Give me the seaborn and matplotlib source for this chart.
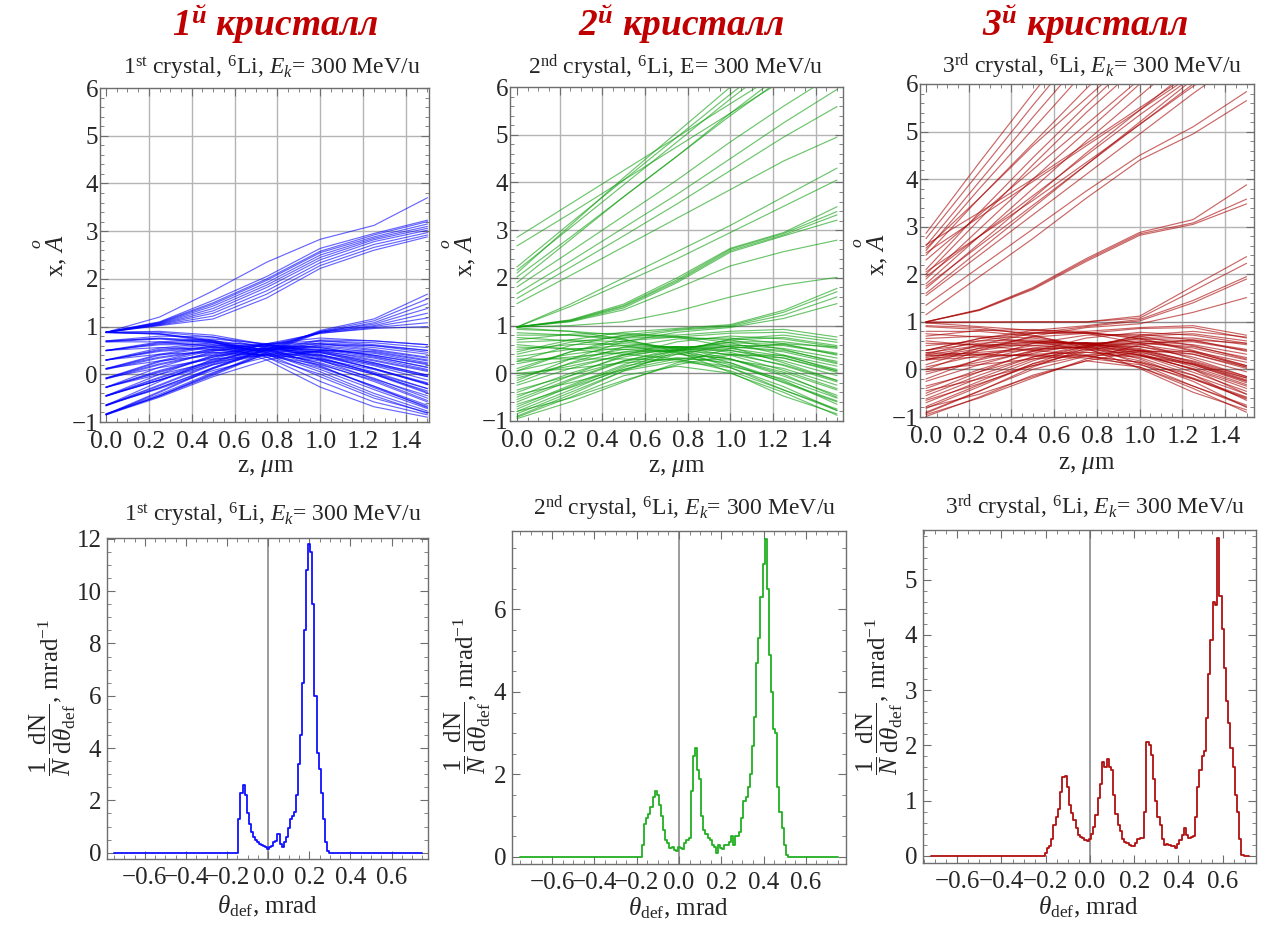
import numpy as np
import pandas as pd
import matplotlib
matplotlib.use("Agg")
import matplotlib.pyplot as plt
import seaborn as sns
from matplotlib.ticker import MultipleLocator, FixedLocator

sns.set_theme(style="white")
plt.rcParams['font.family'] = ['Liberation Serif', 'DejaVu Serif']
plt.rcParams['mathtext.fontset'] = 'custom'
plt.rcParams['mathtext.rm'] = 'Liberation Serif'
plt.rcParams['mathtext.it'] = 'Liberation Serif:italic'
plt.rcParams['mathtext.bf'] = 'Liberation Serif:bold'
plt.rcParams['mathtext.bfit'] = 'Liberation Serif:bold:italic'
plt.rcParams['axes.unicode_minus'] = True

# ---------------- data: trajectories x(z), read at these z ----------------
z_grid = [0.0, 0.25, 0.5, 0.75, 1.0, 1.25, 1.5]

p1_upper = [
    [0.88, 1.20, 1.75, 2.35, 2.83, 3.12, 3.70],
    [0.88, 1.10, 1.55, 2.05, 2.64, 2.95, 3.23],
    [0.88, 1.09, 1.50, 2.00, 2.58, 2.92, 3.20],
    [0.88, 1.08, 1.47, 1.97, 2.55, 2.88, 3.15],
    [0.88, 1.07, 1.43, 1.92, 2.50, 2.85, 3.10],
    [0.88, 1.06, 1.38, 1.87, 2.45, 2.82, 3.06],
    [0.88, 1.05, 1.33, 1.82, 2.40, 2.78, 3.02],
    [0.88, 1.04, 1.28, 1.75, 2.34, 2.72, 2.97],
    [0.88, 1.03, 1.22, 1.68, 2.28, 2.66, 2.92],
    [0.88, 1.02, 1.16, 1.60, 2.22, 2.60, 2.88],
]
p1_rising = [
    [-0.85, -0.45, 0.02, 0.48, 0.92, 1.16, 1.68],
    [-0.84, -0.45, 0.00, 0.46, 0.90, 1.12, 1.58],
    [-0.83, -0.46, -0.02, 0.44, 0.88, 1.08, 1.48],
    [-0.66, -0.28, 0.14, 0.54, 0.90, 1.05, 1.38],
    [-0.64, -0.28, 0.12, 0.52, 0.88, 1.02, 1.28],
    [-0.46, -0.12, 0.26, 0.60, 0.88, 1.00, 1.18],
    [-0.45, -0.12, 0.24, 0.58, 0.86, 0.98, 1.08],
    [-0.27, 0.04, 0.36, 0.64, 0.86, 0.96, 1.00],
]
p1_channel = [
    [0.88, 0.84, 0.68, 0.30, -0.27, -0.68, -0.90],
    [0.88, 0.85, 0.70, 0.36, -0.15, -0.58, -0.85],
    [0.87, 0.85, 0.72, 0.42, -0.05, -0.50, -0.80],
    [0.88, 0.90, 0.82, 0.62, 0.30, -0.10, -0.45],
    [0.88, 0.88, 0.78, 0.55, 0.18, -0.28, -0.68],
    [0.70, 0.75, 0.68, 0.45, 0.05, -0.40, -0.77],
    [0.68, 0.74, 0.66, 0.46, 0.10, -0.32, -0.72],
    [0.69, 0.76, 0.70, 0.50, 0.16, -0.25, -0.65],
    [0.70, 0.80, 0.78, 0.62, 0.36, 0.02, -0.30],
    [0.68, 0.68, 0.58, 0.36, 0.00, -0.45, -0.82],
    [0.50, 0.64, 0.66, 0.52, 0.22, -0.15, -0.58],
    [0.50, 0.62, 0.62, 0.48, 0.24, -0.08, -0.50],
    [0.50, 0.68, 0.74, 0.64, 0.42, 0.12, -0.18],
    [0.50, 0.56, 0.52, 0.40, 0.14, -0.25, -0.70],
    [0.49, 0.66, 0.70, 0.58, 0.34, 0.02, -0.38],
    [0.30, 0.50, 0.58, 0.52, 0.30, 0.00, -0.40],
    [0.30, 0.48, 0.56, 0.50, 0.32, 0.05, -0.30],
    [0.30, 0.55, 0.66, 0.62, 0.46, 0.20, -0.05],
    [0.30, 0.42, 0.46, 0.40, 0.20, -0.12, -0.55],
    [0.29, 0.52, 0.62, 0.58, 0.40, 0.12, -0.22],
    [0.12, 0.36, 0.52, 0.54, 0.38, 0.12, -0.20],
    [0.10, 0.34, 0.50, 0.52, 0.40, 0.18, -0.12],
    [0.12, 0.42, 0.60, 0.62, 0.50, 0.30, 0.08],
    [0.12, 0.28, 0.40, 0.42, 0.28, 0.00, -0.35],
    [0.11, 0.40, 0.57, 0.60, 0.48, 0.24, -0.02],
    [-0.08, 0.22, 0.45, 0.55, 0.45, 0.24, -0.02],
    [-0.10, 0.20, 0.43, 0.53, 0.46, 0.28, 0.06],
    [-0.08, 0.28, 0.54, 0.62, 0.56, 0.40, 0.20],
    [-0.08, 0.14, 0.32, 0.40, 0.32, 0.10, -0.20],
    [-0.09, 0.26, 0.50, 0.60, 0.56, 0.38, 0.14],
    [-0.27, 0.08, 0.38, 0.55, 0.52, 0.36, 0.15],
    [-0.28, 0.06, 0.36, 0.53, 0.53, 0.40, 0.22],
    [-0.27, 0.15, 0.48, 0.64, 0.64, 0.52, 0.36],
    [-0.27, 0.00, 0.26, 0.42, 0.40, 0.22, -0.05],
    [-0.45, -0.06, 0.30, 0.54, 0.58, 0.46, 0.28],
    [-0.46, -0.08, 0.28, 0.52, 0.60, 0.50, 0.34],
    [-0.45, 0.00, 0.40, 0.64, 0.70, 0.62, 0.50],
    [-0.45, -0.12, 0.20, 0.42, 0.48, 0.34, 0.10],
    [-0.65, -0.22, 0.22, 0.52, 0.64, 0.56, 0.42],
    [-0.66, -0.24, 0.20, 0.50, 0.66, 0.60, 0.50],
    [-0.65, -0.15, 0.32, 0.64, 0.76, 0.70, 0.62],
    [-0.64, -0.30, 0.08, 0.36, 0.50, 0.44, 0.24],
    [-0.85, -0.38, 0.12, 0.50, 0.70, 0.66, 0.56],
    [-0.84, -0.36, 0.14, 0.52, 0.72, 0.70, 0.62],
    [-0.85, -0.48, -0.05, 0.30, 0.50, 0.48, 0.30],
    [-0.83, -0.42, 0.04, 0.42, 0.62, 0.60, 0.46],
]

p2_steep = [
    [2.85, 3.55, 4.25, 4.95, 5.65, 6.35, 7.00],
    [2.67, 3.35, 4.05, 4.75, 5.45, 6.15, 6.80],
    [2.23, 3.15, 4.05, 4.95, 5.85, 6.70, 7.50],
    [2.16, 3.05, 3.95, 4.85, 5.75, 6.60, 7.40],
    [2.10, 3.10, 4.10, 5.05, 6.00, 6.90, 7.80],
    [2.02, 2.85, 3.70, 4.55, 5.40, 6.20, 7.00],
    [1.90, 2.80, 3.70, 4.55, 5.45, 6.30, 7.10],
    [1.81, 2.55, 3.30, 4.05, 4.85, 5.60, 6.30],
    [1.67, 2.35, 3.05, 3.75, 4.50, 5.25, 5.95],
    [1.57, 2.22, 2.88, 3.55, 4.25, 4.95, 5.59],
    [1.46, 2.05, 2.65, 3.25, 3.85, 4.45, 4.95],
    [0.97, 1.45, 2.00, 2.55, 3.10, 3.70, 4.30],
    [0.97, 1.40, 1.90, 2.40, 2.95, 3.50, 4.05],
]
p2_group = [
    [0.97, 1.12, 1.45, 2.00, 2.62, 2.95, 3.49],
    [0.97, 1.11, 1.42, 1.96, 2.60, 2.93, 3.39],
    [0.97, 1.10, 1.40, 1.93, 2.57, 2.90, 3.32],
    [0.97, 1.09, 1.37, 1.90, 2.54, 2.88, 3.21],
    [0.97, 1.08, 1.33, 1.78, 2.25, 2.55, 2.79],
    [0.97, 1.00, 1.08, 1.30, 1.60, 1.85, 2.01],
    [0.45, 0.70, 0.86, 0.94, 1.02, 1.32, 1.78],
    [0.25, 0.58, 0.80, 0.92, 1.00, 1.28, 1.71],
    [0.05, 0.45, 0.74, 0.90, 0.98, 1.22, 1.60],
    [-0.15, 0.30, 0.66, 0.86, 0.96, 1.15, 1.46],
]
p2_channel = [
    [-0.92, -0.50, -0.05, 0.15, 0.00, -0.40, -0.88],
    [-0.85, -0.40, 0.05, 0.25, 0.12, -0.28, -0.78],
    [-0.75, -0.28, 0.15, 0.33, 0.22, -0.15, -0.65],
    [-0.60, -0.15, 0.25, 0.40, 0.30, -0.02, -0.50],
    [0.95, 0.88, 0.80, 0.80, 0.88, 0.92, 0.76],
    [0.85, 0.80, 0.74, 0.76, 0.84, 0.86, 0.70],
    [-0.90, -0.45, 0.05, 0.45, 0.72, 0.80, 0.65],
    [-0.80, -0.35, 0.12, 0.48, 0.70, 0.75, 0.58],
    [-0.70, -0.25, 0.18, 0.50, 0.66, 0.66, 0.52],
    [-0.55, -0.12, 0.26, 0.52, 0.64, 0.60, 0.42],
    [-0.40, 0.00, 0.34, 0.54, 0.60, 0.52, 0.32],
    [-0.25, 0.10, 0.40, 0.55, 0.56, 0.45, 0.20],
    [-0.10, 0.20, 0.45, 0.56, 0.52, 0.36, 0.08],
    [0.05, 0.30, 0.50, 0.56, 0.48, 0.26, -0.05],
    [0.20, 0.40, 0.54, 0.56, 0.44, 0.16, -0.18],
    [0.35, 0.50, 0.58, 0.55, 0.38, 0.06, -0.32],
    [0.50, 0.60, 0.62, 0.54, 0.30, -0.06, -0.46],
    [0.65, 0.70, 0.66, 0.52, 0.22, -0.20, -0.60],
    [0.80, 0.80, 0.70, 0.50, 0.12, -0.35, -0.75],
    [0.92, 0.88, 0.72, 0.45, 0.02, -0.48, -0.85],
    [-0.95, -0.60, -0.18, 0.22, 0.52, 0.62, 0.55],
    [-0.65, -0.30, 0.08, 0.40, 0.58, 0.58, 0.40],
    [-0.35, -0.05, 0.26, 0.48, 0.56, 0.48, 0.25],
    [-0.05, 0.15, 0.38, 0.50, 0.48, 0.32, 0.02],
    [0.25, 0.34, 0.44, 0.48, 0.40, 0.18, -0.15],
    [0.55, 0.52, 0.50, 0.45, 0.30, 0.02, -0.35],
    [0.75, 0.68, 0.58, 0.42, 0.18, -0.18, -0.58],
    [-0.50, -0.05, 0.38, 0.66, 0.78, 0.72, 0.55],
    [-0.20, 0.22, 0.55, 0.72, 0.74, 0.62, 0.38],
    [0.10, 0.45, 0.68, 0.76, 0.70, 0.50, 0.22],
    [0.40, 0.65, 0.78, 0.78, 0.64, 0.38, 0.05],
    [0.70, 0.82, 0.84, 0.76, 0.55, 0.22, -0.15],
    [-0.80, -0.52, -0.15, 0.18, 0.38, 0.38, 0.15],
    [-0.45, -0.20, 0.08, 0.30, 0.40, 0.32, 0.05],
    [0.00, 0.10, 0.22, 0.30, 0.28, 0.10, -0.25],
    [0.30, 0.30, 0.30, 0.28, 0.15, -0.12, -0.52],
    [0.60, 0.50, 0.40, 0.30, 0.05, -0.35, -0.78],
]

p3_steep = [
    [2.86, 4.35, 5.80, 7.20, 8.60, 10.0, 11.4],
    [2.75, 4.15, 5.55, 6.90, 8.25, 9.60, 10.9],
    [2.60, 3.95, 5.30, 6.60, 7.90, 9.20, 10.5],
    [2.50, 3.80, 5.05, 6.30, 7.50, 8.70, 9.90],
    [2.40, 3.60, 4.75, 5.90, 7.00, 8.10, 9.20],
    [2.10, 3.30, 4.45, 5.55, 6.60, 7.60, 8.60],
    [2.00, 3.15, 4.30, 5.40, 6.40, 7.40, 8.40],
    [1.90, 2.95, 4.00, 5.00, 6.00, 7.00, 8.00],
    [1.80, 2.80, 3.80, 4.80, 5.75, 6.70, 7.60],
    [1.70, 2.65, 3.60, 4.55, 5.45, 6.35, 7.20],
    [1.60, 2.50, 3.40, 4.30, 5.20, 6.10, 7.00],
    [1.55, 2.40, 3.25, 4.10, 4.95, 5.80, 6.60],
    [1.35, 2.15, 2.95, 3.75, 4.50, 5.10, 5.84],
    [1.15, 1.95, 2.75, 3.60, 4.40, 4.95, 5.65],
    [2.55, 3.60, 4.70, 5.70, 6.70, 7.70, 8.70],
    [2.30, 3.25, 4.20, 5.15, 6.10, 7.00, 7.90],
    [1.95, 2.80, 3.65, 4.50, 5.35, 6.15, 6.90],
    [1.75, 2.60, 3.45, 4.30, 5.15, 6.00, 6.80],
    [2.05, 2.80, 3.55, 4.35, 5.15, 5.95, 6.70],
    [2.45, 3.20, 3.95, 4.70, 5.45, 6.20, 6.90],
    [2.62, 3.30, 4.00, 4.75, 5.50, 6.25, 7.00],
]
p3_group = [
    [1.00, 1.25, 1.70, 2.30, 2.85, 3.08, 3.58],
    [1.00, 1.24, 1.68, 2.27, 2.82, 3.05, 3.48],
    [1.00, 1.26, 1.72, 2.33, 2.88, 3.15, 3.88],
    [1.00, 1.00, 1.00, 1.00, 1.12, 1.75, 2.37],
    [0.98, 0.99, 1.00, 1.00, 1.08, 1.65, 2.23],
    [0.40, 0.65, 0.82, 0.92, 1.05, 1.45, 1.95],
    [0.20, 0.52, 0.76, 0.90, 1.02, 1.40, 1.90],
    [0.00, 0.40, 0.70, 0.88, 0.96, 1.20, 1.51],
]
p3_channel = [
    [-0.99, -0.58, -0.12, 0.18, 0.05, -0.40, -0.90],
    [-0.90, -0.45, 0.00, 0.28, 0.15, -0.25, -0.80],
    [-0.78, -0.32, 0.12, 0.36, 0.25, -0.12, -0.65],
    [-0.62, -0.18, 0.22, 0.42, 0.32, 0.00, -0.52],
    [0.98, 0.90, 0.82, 0.80, 0.88, 0.92, 0.72],
    [0.90, 0.84, 0.76, 0.76, 0.86, 0.88, 0.66],
    [-0.92, -0.46, 0.05, 0.45, 0.72, 0.80, 0.68],
    [-0.82, -0.36, 0.12, 0.48, 0.70, 0.75, 0.60],
    [-0.70, -0.25, 0.18, 0.50, 0.66, 0.66, 0.52],
    [-0.55, -0.12, 0.26, 0.52, 0.64, 0.60, 0.42],
    [-0.40, 0.00, 0.34, 0.54, 0.60, 0.52, 0.32],
    [-0.25, 0.10, 0.40, 0.55, 0.56, 0.45, 0.20],
    [-0.10, 0.20, 0.45, 0.56, 0.52, 0.36, 0.08],
    [0.05, 0.30, 0.50, 0.56, 0.48, 0.26, -0.05],
    [0.20, 0.40, 0.54, 0.56, 0.44, 0.16, -0.18],
    [0.25, 0.44, 0.56, 0.55, 0.42, 0.14, -0.22],
    [0.30, 0.48, 0.58, 0.55, 0.40, 0.10, -0.28],
    [0.35, 0.50, 0.58, 0.55, 0.38, 0.06, -0.32],
    [0.40, 0.55, 0.60, 0.54, 0.34, 0.00, -0.40],
    [0.50, 0.60, 0.62, 0.54, 0.30, -0.06, -0.46],
    [0.65, 0.70, 0.66, 0.52, 0.22, -0.20, -0.60],
    [0.80, 0.80, 0.70, 0.50, 0.12, -0.35, -0.75],
    [0.92, 0.88, 0.72, 0.45, 0.02, -0.48, -0.85],
    [-0.95, -0.60, -0.18, 0.22, 0.52, 0.62, 0.55],
    [-0.65, -0.30, 0.08, 0.40, 0.58, 0.58, 0.40],
    [-0.35, -0.05, 0.26, 0.48, 0.56, 0.48, 0.25],
    [-0.05, 0.15, 0.38, 0.50, 0.48, 0.32, 0.02],
    [0.22, 0.32, 0.42, 0.47, 0.40, 0.18, -0.15],
    [0.28, 0.36, 0.44, 0.46, 0.36, 0.12, -0.24],
    [0.55, 0.52, 0.50, 0.45, 0.30, 0.02, -0.35],
    [0.75, 0.68, 0.58, 0.42, 0.18, -0.18, -0.58],
    [-0.50, -0.05, 0.38, 0.66, 0.78, 0.72, 0.55],
    [-0.20, 0.22, 0.55, 0.72, 0.74, 0.62, 0.38],
    [0.10, 0.45, 0.68, 0.76, 0.70, 0.50, 0.22],
    [0.32, 0.60, 0.76, 0.78, 0.66, 0.40, 0.08],
    [0.40, 0.65, 0.78, 0.78, 0.64, 0.38, 0.05],
    [0.70, 0.82, 0.84, 0.76, 0.55, 0.22, -0.15],
    [-0.80, -0.52, -0.15, 0.18, 0.38, 0.38, 0.15],
    [-0.45, -0.20, 0.08, 0.30, 0.40, 0.32, 0.05],
    [0.00, 0.10, 0.22, 0.30, 0.28, 0.10, -0.25],
    [0.30, 0.30, 0.30, 0.28, 0.15, -0.12, -0.52],
    [0.35, 0.32, 0.28, 0.24, 0.10, -0.20, -0.62],
    [0.60, 0.50, 0.40, 0.30, 0.05, -0.35, -0.78],
    [0.20, 0.26, 0.32, 0.36, 0.30, 0.12, -0.18],
]

# ---------------- data: deflection-angle histograms (0.01 mrad bins) ----------------
h1_first_bin = -0.14
h1_vals = [1.3, 2.3, 2.6, 2.2, 1.5, 1.1, 0.8, 0.6, 0.48, 0.4, 0.33, 0.3, 0.27, 0.22,
           0.15, 0.2, 0.25, 0.4, 0.45, 0.7, 0.35, 0.22, 0.4, 0.6, 0.95, 1.3, 1.4, 1.55,
           2.2, 3.4, 4.5, 6.5, 8.5, 10.8, 11.8, 11.5, 9.5, 6.0, 3.8, 3.2, 2.3, 1.3, 0.4, 0.05]
h2_first_bin = -0.17
h2_vals = [0.3, 0.8, 0.95, 1.05, 1.2, 1.45, 1.6, 1.5, 1.25, 1.0, 0.65, 0.4, 0.33, 0.22,
           0.25, 0.18, 0.14, 0.25, 0.22, 0.2, 0.35, 0.42, 0.45, 1.6, 2.45, 2.65, 2.1, 1.9,
           1.0, 0.65, 0.55, 0.45, 0.4, 0.3, 0.25, 0.1, 0.3, 0.22, 0.2, 0.28, 0.3, 0.37,
           0.5, 0.3, 0.5, 0.5, 0.6, 0.95, 1.35, 1.45, 1.7, 2.0, 2.7, 3.4, 4.7, 5.3, 6.3,
           7.1, 7.7, 6.5, 4.9, 4.0, 3.1, 3.0, 1.7, 1.1, 0.7, 0.3, 0.05]
h3_first_bin = -0.20
h3_vals = [0.05, 0.14, 0.18, 0.3, 0.55, 0.7, 0.85, 1.15, 1.42, 1.44, 1.25, 0.92, 0.78,
           0.65, 0.5, 0.38, 0.34, 0.32, 0.28, 0.27, 0.3, 0.4, 0.52, 0.74, 1.05, 1.3, 1.7,
           1.6, 1.75, 1.6, 1.55, 1.1, 0.75, 0.56, 0.45, 0.3, 0.25, 0.23, 0.2, 0.18, 0.17,
           0.24, 0.3, 0.32, 0.32, 0.8, 2.07, 2.0, 1.83, 1.4, 1.0, 0.7, 0.56, 0.3, 0.2, 0.22,
           0.2, 0.18, 0.17, 0.14, 0.22, 0.28, 0.38, 0.5, 0.38, 0.32, 0.34, 0.35, 0.7, 1.25,
           1.55, 1.8, 1.9, 2.5, 3.3, 3.9, 4.6, 4.55, 5.75, 4.7, 4.1, 3.4, 2.8, 2.4, 1.95,
           1.6, 1.1, 0.8, 0.3, 0.02]

titles_top = [r'1$^{\mathrm{st}}$ crystal, ${}^{6}$Li, $E_k$= 300 MeV/u',
              r'2$^{\mathrm{nd}}$ crystal, ${}^{6}$Li, E= 300 MeV/u',
              r'3$^{\mathrm{rd}}$ crystal, ${}^{6}$Li, $E_k$= 300 MeV/u']
titles_bot = [r'1$^{\mathrm{st}}$ crystal, ${}^{6}$Li, $E_k$= 300 MeV/u',
              r'2$^{\mathrm{nd}}$ crystal, ${}^{6}$Li, $E_k$= 300 MeV/u',
              r'3$^{\mathrm{rd}}$ crystal, ${}^{6}$Li, $E_k$= 300 MeV/u']
headers = [r'$\mathbfit{1^{й}}$ кристалл', r'$\mathbfit{2^{й}}$ кристалл',
           r'$\mathbfit{3^{й}}$ кристалл']

# ---------------- figure ----------------
W, H = 1275, 935
fig = plt.figure(figsize=(W / 100, H / 100), dpi=100)
fig.patch.set_facecolor('white')


def rect(l, t, r, b):
    return [l / W, 1 - b / H, (r - l) / W, (b - t) / H]


def fpos(x, y):
    return x / W, 1 - y / H


def lines_df(*groups):
    rows = []
    k = 0
    for g in groups:
        for ln in g:
            for z, x in zip(z_grid, ln):
                rows.append((k, z, x))
            k += 1
    return pd.DataFrame(rows, columns=['line', 'z', 'x'])


theta_grid = np.round(np.arange(-75, 76) / 100.0, 2)


def hist_series(first, vals, lo=-0.75, hi=0.75):
    t = theta_grid[(theta_grid >= lo - 1e-9) & (theta_grid <= hi + 1e-9)]
    y = np.zeros(len(t))
    i0 = int(np.argmin(np.abs(t - first)))
    y[i0:i0 + len(vals)] = vals
    return t, y


FRAME = '#6e6e6e'


def style_frame(ax):
    for s in ax.spines.values():
        s.set_color(FRAME)
        s.set_linewidth(1.0)
    ax.tick_params(which='both', direction='in', top=True, right=True,
                   left=True, bottom=True, color=FRAME)
    ax.tick_params(which='major', length=6, width=0.8)
    ax.tick_params(which='minor', length=3, width=0.6)
    ax.set_xlabel('')
    ax.set_ylabel('')


top_rects = [rect(100, 88, 429, 422), rect(510, 87, 843, 421), rect(920, 84, 1254, 417)]
top_xlims = [(-0.028, 1.507), (-0.033, 1.528), (-0.028, 1.535)]
top_data = [lines_df(p1_upper, p1_rising, p1_channel),
            lines_df(p2_steep, p2_group, p2_channel),
            lines_df(p3_steep, p3_group, p3_channel)]
top_colors = ['#0000ff', '#0a9e0a', '#a80000']

for i in range(3):
    ax = fig.add_axes(top_rects[i])
    for g in [0.2, 0.4, 0.6, 0.8, 1.0, 1.2, 1.4]:
        ax.axvline(g, color='#b4b4b4', lw=1.0, zorder=0.5)
    for g in [2, 3, 4, 5]:
        ax.axhline(g, color='#b4b4b4', lw=1.0, zorder=0.5)
    for g in [0, 1]:
        ax.axhline(g, color='#8a8a8a', lw=1.0, zorder=0.5)
    sns.lineplot(data=top_data[i], x='z', y='x', units='line', estimator=None,
                 sort=False, color=top_colors[i], lw=0.85, alpha=0.6, ax=ax,
                 legend=False)
    ax.set_xlim(*top_xlims[i])
    ax.set_ylim(-1, 6)
    ax.xaxis.set_major_locator(FixedLocator([0.0, 0.2, 0.4, 0.6, 0.8, 1.0, 1.2, 1.4]))
    ax.xaxis.set_minor_locator(MultipleLocator(0.05))
    ax.yaxis.set_major_locator(MultipleLocator(1))
    ax.yaxis.set_minor_locator(MultipleLocator(0.2))
    ax.set_xticklabels(['0.0', '0.2', '0.4', '0.6', '0.8', '1.0', '1.2', '1.4'])
    style_frame(ax)
    ax.tick_params(axis='x', labelsize=18.5, pad=6.5)
    ax.tick_params(axis='y', labelsize=18, pad=1.5)

bot_rects = [rect(107, 538, 428, 859), rect(512, 531, 846, 864), rect(923, 530, 1256, 863)]
bot_xlims = [(-0.784, 0.777), (-0.79, 0.79), (-0.755, 0.751)]
bot_ylims = [(-0.24, 12.03), (-0.17, 7.9), (-0.13, 5.9)]
bot_yticks = [[0, 2, 4, 6, 8, 10, 12], [0, 2, 4, 6], [0, 1, 2, 3, 4, 5]]
bot_yminor = [0.5, 0.5, 0.2]
bot_hist = [hist_series(h1_first_bin, h1_vals),
            hist_series(h2_first_bin, h2_vals),
            hist_series(h3_first_bin, h3_vals, -0.72, 0.72)]
bot_colors = ['#1010ff', '#22b022', '#b01010']

for i in range(3):
    ax = fig.add_axes(bot_rects[i])
    ax.axvline(0.0, color='#8a8a8a', lw=1.2, zorder=0.5)
    t, y = bot_hist[i]
    sns.lineplot(x=t, y=y, drawstyle='steps-mid', color=bot_colors[i], lw=1.3,
                 ax=ax, legend=False)
    ax.set_xlim(*bot_xlims[i])
    ax.set_ylim(*bot_ylims[i])
    ax.xaxis.set_major_locator(FixedLocator([-0.6, -0.4, -0.2, 0.0, 0.2, 0.4, 0.6]))
    ax.set_xticklabels(['\u22120.6', '\u22120.4', '\u22120.2', '0.0', '0.2', '0.4', '0.6'])
    ax.xaxis.set_minor_locator(MultipleLocator(0.05))
    ax.yaxis.set_major_locator(FixedLocator(bot_yticks[i]))
    ax.yaxis.set_minor_locator(MultipleLocator(bot_yminor[i]))
    style_frame(ax)
    ax.tick_params(axis='x', labelsize=18, pad=6)
    ax.tick_params(axis='y', labelsize=18, pad=4)

# ---------------- texts ----------------
RED = '#c00000'
for txt, (x, y) in zip(headers, [(275, 24), (681, 24), (1085, 24)]):
    fig.text(*fpos(x, y), txt, fontsize=27, fontweight='bold', fontstyle='italic',
             color=RED, ha='center', va='center')

for txt, (x, y) in zip(titles_top, [(272, 68), (676, 67), (1092, 66)]):
    fig.text(*fpos(x, y), txt, fontsize=17, ha='center', va='center')
for txt, (x, y) in zip(titles_bot, [(273, 515), (685, 508), (1095, 507)]):
    fig.text(*fpos(x, y), txt, fontsize=17, ha='center', va='center')

for (x, y) in [(50, 256), (459, 256), (871, 255)]:
    fig.text(*fpos(x, y), r'x, $\overset{o}{A}$', fontsize=18, rotation=90,
             ha='center', va='center')
for (x, y) in [(266, 468), (677, 468), (1087, 465)]:
    fig.text(*fpos(x, y), r'z, $\mu$m', fontsize=18, ha='center', va='center')

ylab_bot = r'$\dfrac{1}{N}\,\dfrac{\mathrm{dN}}{\mathrm{d}\theta_{\mathrm{def}}}$, mrad$^{-1}$'
for (x, y) in [(53, 697), (468, 695), (880, 696)]:
    fig.text(*fpos(x, y), ylab_bot, fontsize=18, rotation=90, ha='center', va='center')
for (x, y) in [(267, 906), (678, 908), (1088, 907)]:
    fig.text(*fpos(x, y), r'$\theta_{\mathrm{def}}$, mrad', fontsize=18,
             ha='center', va='center')

fig.savefig('out.png', dpi=100, facecolor='white')
